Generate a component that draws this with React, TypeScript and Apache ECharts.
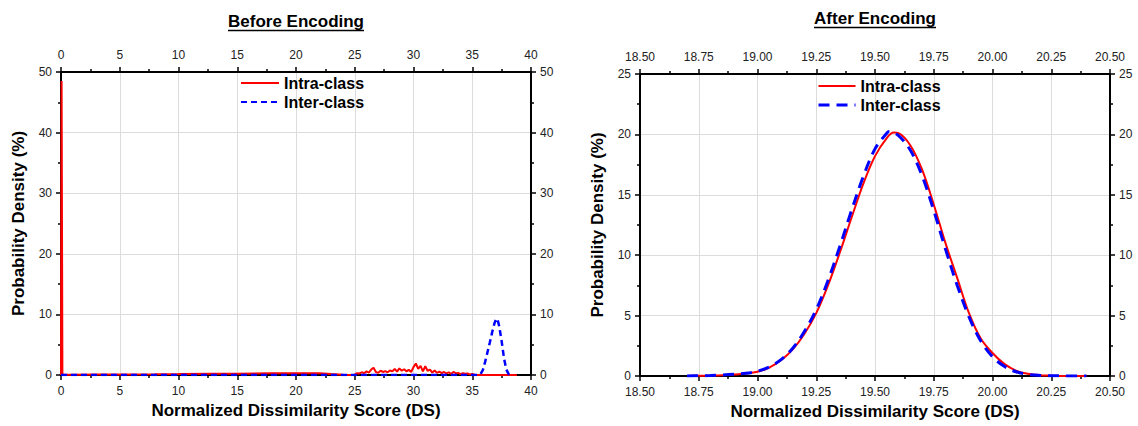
import React, { useEffect, useRef } from "react";
import * as echarts from "echarts";

// ---------- Before encoding: [DS, probability density %] ----------
const beforeIntraSpike: number[][] = [[0, 0], [0.05, 48.5], [0.12, 0.05]];
const beforeIntraLow: number[][] = [
  [1, 0.05], [3, 0.08], [5, 0.1], [8, 0.12], [10, 0.15], [13, 0.2], [15, 0.22],
  [18, 0.28], [20, 0.3], [22, 0.3], [23, 0.15], [24, 0.03], [24.8, 0],
];
const beforeIntraNoisy: number[][] = [
  [25.0, 0.05], [25.2, 0.3], [25.4, 0.25], [25.6, 0.45], [25.8, 0.3], [26.0, 0.6],
  [26.2, 0.4], [26.4, 0.9], [26.6, 1.2], [26.8, 0.5], [27.0, 0.35], [27.2, 0.7],
  [27.4, 0.5], [27.6, 0.65], [27.8, 0.45], [28.0, 0.75], [28.2, 0.6], [28.4, 1.0],
  [28.6, 0.55], [28.8, 1.1], [29.0, 0.7], [29.2, 0.95], [29.4, 0.6], [29.6, 0.85],
  [29.8, 0.5], [30.0, 1.3], [30.2, 1.9], [30.4, 1.0], [30.6, 1.5], [30.8, 0.6],
  [31.0, 1.45], [31.2, 0.7], [31.4, 0.9], [31.6, 0.4], [31.8, 0.75], [32.0, 0.35],
  [32.2, 0.55], [32.4, 0.3], [32.6, 0.5], [32.8, 0.25], [33.0, 0.45], [33.2, 0.2],
  [33.4, 0.5], [33.6, 0.3], [33.8, 0.35], [34.0, 0.15], [34.2, 0.3], [34.4, 0.2],
  [34.6, 0.25], [34.8, 0.1], [35.0, 0.15], [35.2, 0.05],
];
const beforeIntraTail: number[][] = [[35.4, 0], [38.8, 0]];
const beforeInter: number[][] = [
  [0, 0], [35.5, 0], [35.7, 0.15], [35.9, 0.8], [36.1, 2.2], [36.3, 3.8],
  [36.5, 5.4], [36.7, 7.1], [36.9, 8.6], [37.05, 9.3], [37.15, 9.2], [37.3, 8.0],
  [37.5, 5.6], [37.7, 2.8], [37.9, 0.9], [38.1, 0.15], [38.3, 0], [38.5, 0],
];

// ---------- After encoding ----------
const afterIntra: number[][] = [
  [18.7, 0], [18.75, 0.02], [18.8, 0.04], [18.85, 0.07], [18.9, 0.12], [18.95, 0.2],
  [19.0, 0.35], [19.05, 0.7], [19.1, 1.3], [19.15, 2.2], [19.2, 3.5], [19.25, 5.2],
  [19.3, 7.5], [19.35, 10.2], [19.4, 13.1], [19.45, 15.9], [19.5, 18.2], [19.55, 19.7],
  [19.58, 20.15], [19.6, 20.1], [19.65, 19.1], [19.7, 17.1], [19.75, 14.2], [19.8, 11.0],
  [19.85, 8.1], [19.9, 5.2], [19.95, 3.1], [20.0, 1.9], [20.05, 1.0], [20.1, 0.45],
  [20.15, 0.18], [20.2, 0.07], [20.25, 0.03], [20.3, 0.01], [20.4, 0],
];
const afterInter: number[][] = [
  [18.7, 0], [18.75, 0.02], [18.8, 0.04], [18.85, 0.08], [18.9, 0.14], [18.95, 0.22],
  [19.0, 0.4], [19.05, 0.75], [19.1, 1.35], [19.15, 2.3], [19.2, 3.7], [19.25, 5.5],
  [19.3, 7.9], [19.35, 10.7], [19.4, 13.7], [19.45, 16.5], [19.5, 18.8], [19.55, 20.1],
  [19.56, 20.25], [19.6, 19.9], [19.65, 18.7], [19.7, 16.6], [19.75, 13.7], [19.8, 10.5],
  [19.85, 7.5], [19.9, 4.9], [19.95, 2.9], [20.0, 1.6], [20.05, 0.8], [20.1, 0.35],
  [20.15, 0.14], [20.2, 0.05], [20.25, 0.02], [20.3, 0.01], [20.4, 0],
];

const legendNames = ["Intra-class", "Inter-class"];
const titles = ["Before Encoding", "After Encoding"];
const xName = "Normalized Dissimilarity Score (DS)";
const yName = "Probability Density (%)";

const FONT = "'Liberation Sans', Arial, Helvetica, sans-serif";
const RED = "#ff0000";
const BLUE = "#0000ff";

const tickStyle = { color: "#000", width: 1.5 };
const nameStyle = { fontFamily: FONT, fontSize: 17, fontWeight: "bold", color: "#000" };

function xAxis(grid: number, position: "top" | "bottom", min: number, max: number,
  interval: number, digits: number, withName: boolean) {
  return {
    type: "value",
    gridIndex: grid,
    position,
    min,
    max,
    interval,
    name: withName ? xName : "",
    nameLocation: "middle",
    nameGap: 23,
    nameTextStyle: nameStyle,
    axisLine: { show: true, onZero: false, lineStyle: { color: "#000", width: 2 } },
    axisTick: { show: true, length: 5, lineStyle: tickStyle },
    minorTick: { show: true, splitNumber: 2, length: 3, lineStyle: tickStyle },
    axisLabel: {
      show: true,
      margin: position === "top" ? 11 : 10,
      fontFamily: FONT,
      fontSize: 12,
      color: "#222",
      formatter: (v: number) => v.toFixed(digits),
    },
    splitLine: { show: withName, lineStyle: { color: "#dcdcdc", width: 1 } },
    minorSplitLine: { show: false },
  };
}

function yAxis(grid: number, position: "left" | "right", max: number, interval: number,
  withName: boolean) {
  return {
    type: "value",
    gridIndex: grid,
    position,
    min: 0,
    max,
    interval,
    name: withName ? yName : "",
    nameLocation: "middle",
    nameGap: 34,
    nameTextStyle: nameStyle,
    axisLine: { show: true, onZero: false, lineStyle: { color: "#000", width: 2 } },
    axisTick: { show: true, length: 5, lineStyle: tickStyle },
    minorTick: { show: true, splitNumber: 2, length: 3, lineStyle: tickStyle },
    axisLabel: { show: true, margin: 9, fontFamily: FONT, fontSize: 12, color: "#222" },
    splitLine: { show: withName, lineStyle: { color: "#dcdcdc", width: 1 } },
    minorSplitLine: { show: false },
  };
}

function titleGraphic(text: string, cx: number, cy: number, underlineY: number, width: number) {
  return [
    {
      type: "text",
      x: cx,
      y: cy,
      style: {
        text,
        font: `bold 17px ${FONT}`,
        fill: "#000",
        textAlign: "center",
        textVerticalAlign: "middle",
        align: "center",
        verticalAlign: "middle",
      },
    },
    {
      type: "line",
      shape: { x1: cx - width / 2, y1: underlineY, x2: cx + width / 2, y2: underlineY },
      style: { stroke: "#000", lineWidth: 1.3 },
    },
  ];
}

export default function App() {
  const ref = useRef<HTMLDivElement>(null);

  useEffect(() => {
    if (!ref.current) return;
    const chart = echarts.init(ref.current, undefined, { renderer: "svg" });

    const beforeIntra = [...beforeIntraSpike, ...beforeIntraLow, ...beforeIntraNoisy, ...beforeIntraTail];

    const legendText = { fontFamily: FONT, fontSize: 16, fontWeight: "bold", color: "#000" };

    chart.setOption({
      animation: false,
      backgroundColor: "#fff",
      grid: [
        { left: 61, top: 72, width: 470, height: 303 },
        { left: 640, top: 74, width: 470, height: 302 },
      ],
      xAxis: [
        xAxis(0, "bottom", 0, 40, 5, 0, true),
        xAxis(0, "top", 0, 40, 5, 0, false),
        xAxis(1, "bottom", 18.5, 20.5, 0.25, 2, true),
        xAxis(1, "top", 18.5, 20.5, 0.25, 2, false),
      ],
      yAxis: [
        yAxis(0, "left", 50, 10, true),
        yAxis(0, "right", 50, 10, false),
        yAxis(1, "left", 25, 5, true),
        yAxis(1, "right", 25, 5, false),
      ],
      legend: [
        {
          left: 240,
          top: 75,
          padding: 0,
          orient: "vertical",
          itemWidth: 38,
          itemHeight: 16,
          itemGap: 3,
          itemStyle: { opacity: 0 },
          textStyle: legendText,
          data: legendNames,
        },
        {
          left: 817,
          top: 78,
          padding: 0,
          orient: "vertical",
          itemWidth: 37,
          itemHeight: 16,
          itemGap: 3,
          itemStyle: { opacity: 0 },
          textStyle: legendText,
          data: [
            { name: legendNames[0] },
            { name: legendNames[1], lineStyle: { type: [11, 7], width: 3, color: BLUE } },
          ],
        },
      ],
      series: [
        {
          id: "before-intra",
          name: legendNames[0],
          type: "line",
          xAxisIndex: 0,
          yAxisIndex: 0,
          data: beforeIntra,
          symbol: "none",
          showSymbol: false,
          lineStyle: { color: RED, width: 2 },
          itemStyle: { color: RED },
        },
        {
          id: "before-inter",
          name: legendNames[1],
          type: "line",
          xAxisIndex: 0,
          yAxisIndex: 0,
          data: beforeInter,
          symbol: "none",
          showSymbol: false,
          lineStyle: { color: BLUE, width: 2.5, type: [6, 4] },
          itemStyle: { color: BLUE },
        },
        {
          id: "after-intra",
          name: legendNames[0],
          type: "line",
          xAxisIndex: 2,
          yAxisIndex: 2,
          data: afterIntra,
          symbol: "none",
          showSymbol: false,
          smooth: 0.35,
          lineStyle: { color: RED, width: 2 },
          itemStyle: { color: RED },
        },
        {
          id: "after-inter",
          name: legendNames[1],
          type: "line",
          xAxisIndex: 2,
          yAxisIndex: 2,
          data: afterInter,
          symbol: "none",
          showSymbol: false,
          smooth: 0.35,
          lineStyle: { color: BLUE, width: 3, type: [11, 7] },
          itemStyle: { color: BLUE },
        },
      ],
      graphic: [
        ...titleGraphic(titles[0], 296, 21, 30.5, 136),
        ...titleGraphic(titles[1], 875, 18.5, 27.5, 122),
      ],
    });

    return () => chart.dispose();
  }, []);

  return (
    <div
      ref={ref}
      style={{ position: "fixed", left: 0, top: 0, width: 1138, height: 426, background: "#fff" }}
    />
  );
}
